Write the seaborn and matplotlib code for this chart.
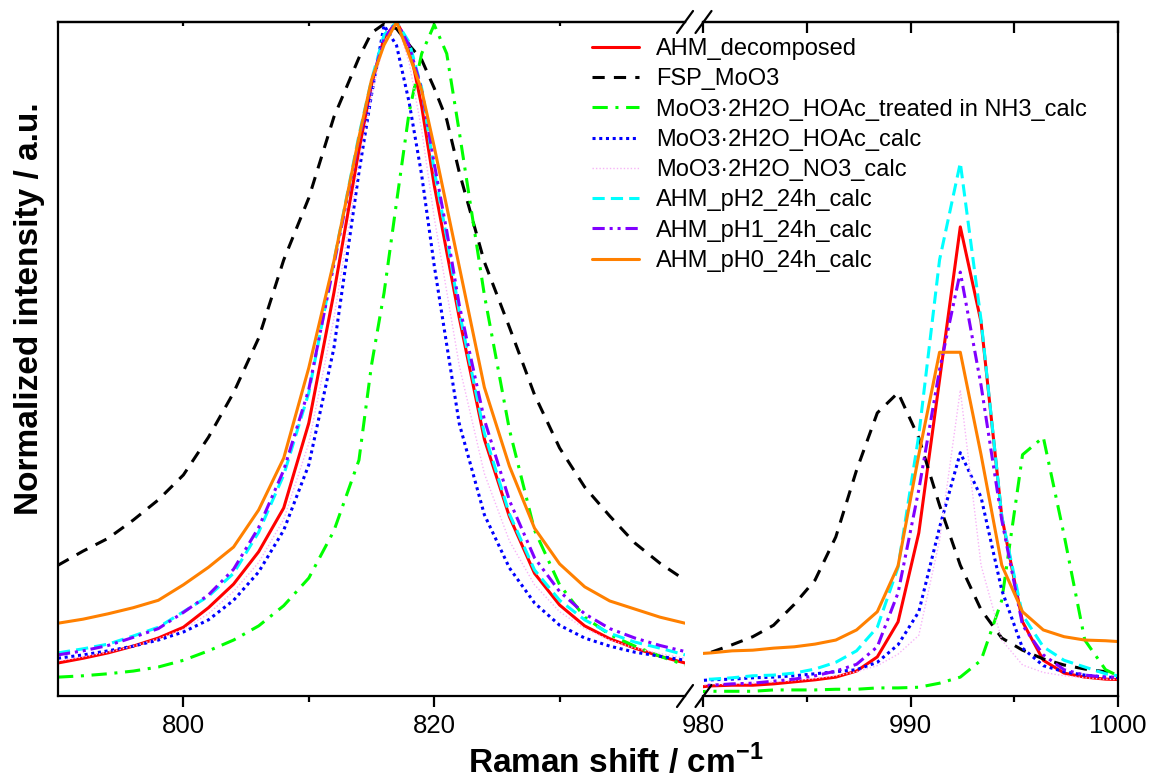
import numpy as np
import pandas as pd
from matplotlib import pyplot as plt
from matplotlib.lines import Line2D
import seaborn as sns

sns.set_style("ticks", {"axes.edgecolor": "black", "text.color": "black",
                        "xtick.color": "black", "ytick.color": "black",
                        "axes.labelcolor": "black"})
plt.rcParams['font.family'] = ['Liberation Sans', 'DejaVu Sans']
plt.rcParams['mathtext.fontset'] = 'custom'
plt.rcParams['mathtext.rm'] = 'Liberation Sans:bold'
plt.rcParams['mathtext.bf'] = 'Liberation Sans:bold'

# ---- data ----
samples = ["AHM_decomposed", "FSP_MoO3",
           "MoO3\u00b72H2O_HOAc_treated in NH3_calc", "MoO3\u00b72H2O_HOAc_calc",
           "MoO3\u00b72H2O_NO3_calc", "AHM_pH2_24h_calc", "AHM_pH1_24h_calc",
           "AHM_pH0_24h_calc"]

# left part of the broken axis (790-840 cm-1)
left_shift = [790, 792, 794, 796, 798, 800, 802, 804, 806, 808, 810, 812, 814, 815,
              816, 817, 818, 819, 820, 821, 822, 824, 826, 828, 830, 832, 834, 836,
              838, 840]
left_ahm_dec = [0.049, 0.056, 0.064, 0.074, 0.086, 0.102, 0.131, 0.166, 0.214, 0.279,
                0.405, 0.598, 0.810, 0.907, 0.976, 1.0, 0.966, 0.875, 0.758, 0.659,
                0.561, 0.381, 0.266, 0.182, 0.135, 0.104, 0.085, 0.071, 0.059, 0.049]
left_fsp = [0.194, 0.215, 0.234, 0.261, 0.291, 0.328, 0.384, 0.450, 0.531, 0.647,
            0.739, 0.859, 0.947, 0.984, 0.997, 0.990, 0.966, 0.944, 0.902, 0.855,
            0.777, 0.644, 0.547, 0.447, 0.368, 0.310, 0.267, 0.227, 0.197, 0.172]
left_hoac_nh3 = [0.028, 0.030, 0.033, 0.037, 0.043, 0.053, 0.067, 0.083, 0.104, 0.134,
                 0.175, 0.245, 0.350, 0.491, 0.598, 0.733, 0.866, 0.953, 0.996, 0.953,
                 0.837, 0.595, 0.395, 0.246, 0.165, 0.117, 0.091, 0.074, 0.059, 0.046]
left_hoac = [0.056, 0.061, 0.067, 0.074, 0.083, 0.095, 0.113, 0.142, 0.184, 0.246,
             0.343, 0.516, 0.777, 0.892, 0.995, 0.965, 0.881, 0.773, 0.639, 0.521,
             0.404, 0.269, 0.190, 0.138, 0.105, 0.086, 0.074, 0.065, 0.059, 0.053]
left_no3 = [0.052, 0.058, 0.065, 0.074, 0.085, 0.099, 0.122, 0.155, 0.198, 0.262,
            0.375, 0.560, 0.790, 0.890, 0.970, 1.0, 0.940, 0.840, 0.710, 0.600,
            0.490, 0.330, 0.230, 0.165, 0.125, 0.100, 0.083, 0.071, 0.063, 0.056]
left_ph2 = [0.064, 0.070, 0.077, 0.089, 0.102, 0.125, 0.148, 0.182, 0.243, 0.328,
            0.450, 0.645, 0.832, 0.914, 0.981, 1.0, 0.970, 0.902, 0.780, 0.680,
            0.570, 0.390, 0.270, 0.187, 0.142, 0.113, 0.093, 0.080, 0.071, 0.061]
left_ph1 = [0.061, 0.067, 0.075, 0.087, 0.100, 0.124, 0.150, 0.188, 0.250, 0.335,
            0.455, 0.640, 0.825, 0.910, 0.975, 1.0, 0.965, 0.900, 0.790, 0.690,
            0.580, 0.410, 0.290, 0.205, 0.155, 0.122, 0.100, 0.086, 0.075, 0.066]
left_ph0 = [0.108, 0.114, 0.122, 0.131, 0.142, 0.165, 0.191, 0.221, 0.276, 0.353,
            0.487, 0.645, 0.829, 0.914, 0.966, 1.0, 0.951, 0.899, 0.815, 0.726,
            0.637, 0.458, 0.341, 0.249, 0.196, 0.162, 0.141, 0.129, 0.117, 0.108]

# right part of the broken axis (980-1000 cm-1)
right_shift = [979.4, 980.4, 981.4, 982.4, 983.4, 984.4, 985.4, 986.4, 987.4, 988.4,
               989.4, 990.4, 991.4, 992.4, 993.4, 994.4, 995.4, 996.4, 997.4, 998.4,
               999.4, 1000.4]
right_ahm_dec = [0.012, 0.015, 0.016, 0.016, 0.018, 0.021, 0.024, 0.028, 0.037, 0.058,
                 0.110, 0.242, 0.469, 0.696, 0.555, 0.266, 0.110, 0.053, 0.034, 0.028,
                 0.025, 0.024]
right_fsp = [0.056, 0.065, 0.076, 0.088, 0.105, 0.136, 0.172, 0.236, 0.335, 0.420,
             0.450, 0.383, 0.283, 0.194, 0.128, 0.086, 0.068, 0.055, 0.046, 0.040,
             0.036, 0.034]
right_hoac_nh3 = [0.006, 0.007, 0.007, 0.007, 0.009, 0.009, 0.009, 0.010, 0.010, 0.012,
                  0.012, 0.013, 0.019, 0.028, 0.053, 0.142, 0.358, 0.384, 0.239, 0.083,
                  0.039, 0.024]
right_hoac = [0.022, 0.024, 0.025, 0.027, 0.028, 0.030, 0.033, 0.036, 0.039, 0.050,
              0.076, 0.125, 0.250, 0.361, 0.295, 0.157, 0.071, 0.045, 0.036, 0.031,
              0.028, 0.027]
right_no3 = [0.016, 0.017, 0.018, 0.019, 0.021, 0.023, 0.026, 0.030, 0.036, 0.045,
             0.062, 0.090, 0.231, 0.454, 0.194, 0.083, 0.046, 0.035, 0.030, 0.027,
             0.025, 0.024]
right_ph2 = [0.024, 0.025, 0.027, 0.030, 0.031, 0.034, 0.040, 0.050, 0.067, 0.102,
             0.191, 0.387, 0.647, 0.791, 0.558, 0.266, 0.120, 0.073, 0.053, 0.043,
             0.033, 0.028]
right_ph1 = [0.015, 0.016, 0.018, 0.019, 0.022, 0.025, 0.030, 0.037, 0.047, 0.073,
             0.153, 0.306, 0.484, 0.629, 0.461, 0.261, 0.105, 0.061, 0.039, 0.031,
             0.028, 0.028]
right_ph0 = [0.062, 0.064, 0.067, 0.068, 0.071, 0.073, 0.077, 0.083, 0.098, 0.125,
             0.193, 0.358, 0.510, 0.510, 0.358, 0.194, 0.125, 0.098, 0.088, 0.083,
             0.082, 0.080]

left_curves = dict(zip(samples, [left_ahm_dec, left_fsp, left_hoac_nh3, left_hoac,
                                 left_no3, left_ph2, left_ph1, left_ph0]))
right_curves = dict(zip(samples, [right_ahm_dec, right_fsp, right_hoac_nh3, right_hoac,
                                  right_no3, right_ph2, right_ph1, right_ph0]))

# colour, line width, line style
line_styles = {
    samples[0]: ("#FF0000", 2.2, "-"),
    samples[1]: ("#000000", 2.2, (0, (4, 3))),
    samples[2]: ("#00FF00", 2.2, (0, (5, 2.5, 1, 2.5))),
    samples[3]: ("#0000FF", 2.2, (0, (1, 1.2))),
    samples[4]: ("#F7B4F7", 1.0, (0, (1, 1.5))),
    samples[5]: ("#00FFFF", 2.2, (0, (4, 2))),
    samples[6]: ("#8000FF", 2.2, (0, (4, 1.6, 1, 1.6, 1, 1.6))),
    samples[7]: ("#FF8000", 2.2, "-"),
}

W, H = 1150, 778


def fx(px):
    return px / W


def fy(py):
    return 1 - py / H


def draw_panel(ax, shift, curves):
    for name in samples:
        color, lw, ls = line_styles[name]
        sns.lineplot(x=shift, y=curves[name], ax=ax, color=color, lw=lw,
                     linestyle=ls, sort=False, estimator=None, legend=False)
    ax.set_ylim(0, 1.0)
    ax.set_yticks([])
    ax.set_xlabel("")
    ax.set_ylabel("")
    for s in ax.spines.values():
        s.set_linewidth(1.6)
        s.set_color("black")


fig = plt.figure(figsize=(11.5, 7.78), dpi=100)
ax_l = fig.add_axes([fx(58), fy(696), fx(685) - fx(58), fy(22) - fy(696)])
ax_r = fig.add_axes([fx(703), fy(696), fx(1118) - fx(703), fy(22) - fy(696)])

draw_panel(ax_l, left_shift, left_curves)
draw_panel(ax_r, right_shift, right_curves)

ax_l.set_xlim(790, 840)
ax_l.set_xticks([800, 820])
ax_l.set_xticks([810, 830], minor=True)
ax_l.spines['right'].set_visible(False)

ax_r.set_xlim(980, 1000)
ax_r.set_xticks([980, 990, 1000])
ax_r.set_xticks([985, 995], minor=True)
ax_r.spines['left'].set_visible(False)

for ax, top_len in [(ax_l, 3), (ax_r, 8)]:
    ax.tick_params(axis='x', which='major', direction='out', length=8, width=1.6,
                   labelsize=18.5, pad=5, colors='black')
    ax.tick_params(axis='x', which='minor', direction='out', length=4, width=1.6,
                   colors='black')
    sec = ax.secondary_xaxis('top')
    sec.set_xticks(ax.get_xticks())
    sec.set_xticks(ax.get_xticks(minor=True), minor=True)
    sec.tick_params(axis='x', which='both', direction='in', length=top_len, width=1.6,
                    labeltop=False, colors='black')
    sec.spines['top'].set_linewidth(1.6)
    sec.spines['top'].set_color('black')

# break marks
for py in (22, 696):
    for cx in (685, 703.5):
        fig.add_artist(Line2D([fx(cx - 8), fx(cx + 8)], [fy(py + 11), fy(py - 11)],
                              color='black', lw=1.6, transform=fig.transFigure))

fig.text(fx(30), fy(309), "Normalized intensity / a.u.", rotation=90, ha='center',
         va='center', fontsize=24, fontweight='bold', color='black')
fig.text(fx(616), fy(773), r"Raman shift / cm$^{-1}$", ha='center', va='baseline',
         fontsize=24, fontweight='bold', color='black')

handles = [Line2D([], [], color=line_styles[n][0], lw=line_styles[n][1],
                  linestyle=line_styles[n][2]) for n in samples]
leg = fig.legend(handles, samples, loc='upper left', bbox_to_anchor=(fx(592), fy(38)),
                 frameon=False, fontsize=17, handlelength=2.0, handletextpad=0.7,
                 labelspacing=0.35, borderpad=0, borderaxespad=0)
for t in leg.get_texts():
    t.set_color('black')

fig.savefig("out.png", dpi=100)
